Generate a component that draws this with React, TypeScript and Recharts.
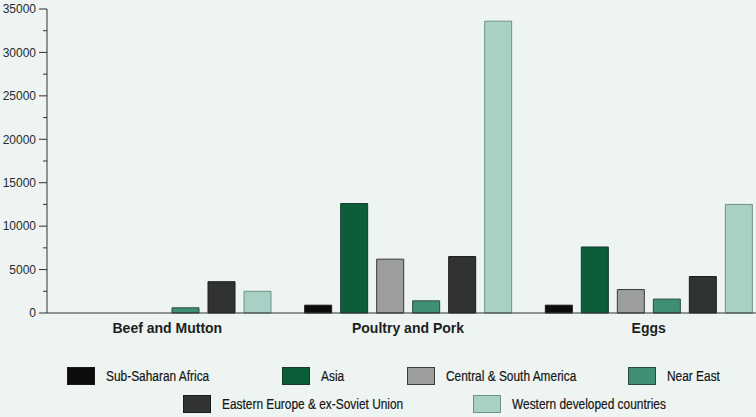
import React from "react";
import { BarChart, Bar, XAxis, YAxis } from "recharts";

const categories = ["Beef and Mutton", "Poultry and Pork", "Eggs"];
const subSaharan = [0, 900, 900];
const asia = [0, 12600, 7600];
const centralSouth = [0, 6200, 2700];
const nearEast = [600, 1400, 1600];
const easternEurope = [3600, 6500, 4200];
const western = [2500, 33600, 12500];
const yTicks = [0, 2500, 5000, 7500, 10000, 12500, 15000, 17500, 20000, 22500, 25000, 27500, 30000, 32500, 35000];

const series = [
  { key: "ssa", name: "Sub-Saharan Africa", values: subSaharan, fill: "#0c0c0c", stroke: "#1a1a1a" },
  { key: "asia", name: "Asia", values: asia, fill: "#0c5e3b", stroke: "#163a2a" },
  { key: "csa", name: "Central & South America", values: centralSouth, fill: "#9d9f9c", stroke: "#3a3a3a" },
  { key: "ne", name: "Near East", values: nearEast, fill: "#3f8f77", stroke: "#2c4a40" },
  { key: "ee", name: "Eastern Europe & ex-Soviet Union", values: easternEurope, fill: "#303331", stroke: "#1c1c1c" },
  { key: "wdc", name: "Western developed countries", values: western, fill: "#a8d0c4", stroke: "#6f918a" },
];

const data = categories.map((c, i) => {
  const row: Record<string, string | number> = { cat: c };
  series.forEach((s) => (row[s.key] = s.values[i]));
  return row;
});

// legend rows: series index + left offset of swatch
const legendRows = [
  [[0, 67], [1, 282], [2, 407], [3, 628]],
  [[4, 183], [5, 473]],
];

const YTick = (p: any) => {
  const v = p.payload.value;
  const major = v % 5000 === 0;
  return (
    <g>
      <line x1={p.x + (major ? 3 : 7)} x2={p.x + 11} y1={p.y} y2={p.y} stroke="#333" strokeWidth={1} />
      {major && (
        <text x={p.x} y={p.y} dy="0.36em" textAnchor="end" fontSize={12} fill="#2a2a2a" fontFamily="'Liberation Sans', Arial, sans-serif">
          {v}
        </text>
      )}
    </g>
  );
};

const XTick = (p: any) => (
  <text x={p.x} y={p.y} dy="0.71em" textAnchor="middle" fontSize={14} fontWeight="bold" fill="#1e1e1e" fontFamily="'Liberation Sans', Arial, sans-serif">
    {p.payload.value}
  </text>
);

export default function App() {
  return (
    <div style={{ position: "fixed", left: 0, top: 0, width: 756, height: 417, overflow: "hidden", background: "#edf4f1" }}>
      <BarChart width={780} height={345} data={data} margin={{ top: 9, right: 11, left: 0, bottom: 0 }} barSize={27} barGap={9}>
        <XAxis dataKey="cat" axisLine={{ stroke: "#333" }} tickLine={false} tick={<XTick />} tickSize={0} tickMargin={10} height={32} />
        <YAxis
          domain={[0, 35000]}
          ticks={yTicks}
          interval={0}
          width={47}
          axisLine={{ stroke: "#333" }}
          tickLine={false}
          tickSize={8}
          tickMargin={3}
          tick={<YTick />}
        />
        {series.map((s) => (
          <Bar key={s.key} dataKey={s.key} name={s.name} fill={s.fill} stroke={s.stroke} strokeWidth={1} isAnimationActive={false} />
        ))}
      </BarChart>
      {legendRows.map((row, ri) => (
        <div key={ri} style={{ position: "absolute", top: 366 + ri * 28, left: 0, height: 19, width: 756 }}>
          {row.map(([si, left]) => (
            <div key={si} style={{ position: "absolute", left, top: 0, display: "flex", alignItems: "center", height: 19 }}>
              <div style={{ width: 28, height: 18, background: series[si].fill, border: `1px solid ${series[si].stroke}`, boxSizing: "border-box" }} />
              <span
                style={{
                  marginLeft: 11,
                  display: "inline-block",
                  fontSize: 14,
                  color: "#151515",
                  whiteSpace: "nowrap",
                  fontFamily: "'Liberation Sans', Arial, sans-serif",
                  transform: "scaleX(0.85)",
                  transformOrigin: "left center",
                  WebkitTextStroke: "0.2px #151515",
                }}
              >
                {series[si].name}
              </span>
            </div>
          ))}
        </div>
      ))}
    </div>
  );
}
